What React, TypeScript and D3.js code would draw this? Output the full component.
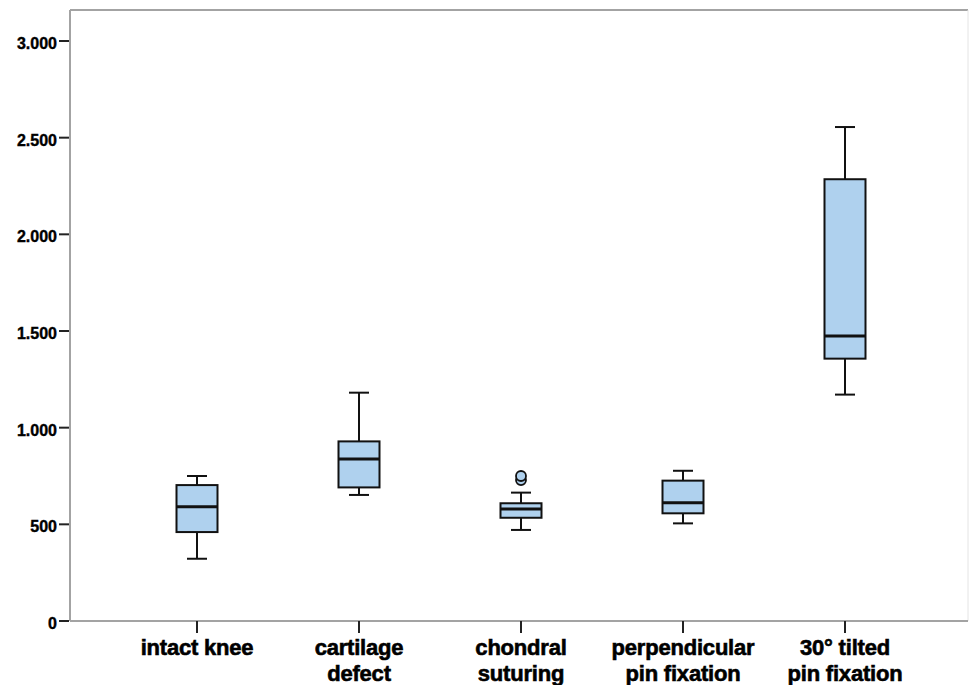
import React, { useEffect, useRef } from "react";
import * as d3 from "d3";

const categories = ["intact knee", "cartilage defect", "chondral suturing", "perpendicular pin fixation", "30° tilted pin fixation"];
const labelLines = [["intact knee"], ["cartilage", "defect"], ["chondral", "suturing"], ["perpendicular", "pin fixation"], ["30° tilted", "pin fixation"]];
const whiskerLow = [322, 652, 471, 505, 1171];
const q1 = [460, 691, 534, 557, 1357];
const median = [591, 838, 579, 612, 1474];
const q3 = [703, 929, 609, 726, 2285];
const whiskerHigh = [750, 1181, 664, 777, 2555];
const outliers = [[], [], [729, 750], [], []];
const yTicks = [0, 500, 1000, 1500, 2000, 2500, 3000];

export default function App() {
  const ref = useRef<SVGSVGElement>(null);

  useEffect(() => {
    if (!ref.current) return;
    const svg = d3.select(ref.current);
    svg.selectAll("*").remove();

    const left = 70;
    const right = 968;
    const top = 10;
    const bottom = 621;

    const y = d3.scaleLinear().domain([0, 3000]).range([bottom, 41]);
    // category centres sit at fixed spacing inside the frame
    const x = d3.scalePoint<string>().domain(categories).range([197, 845]);

    const font = "'Liberation Sans', Arial, sans-serif";
    const frame = "#a3a3a3";

    // plot frame
    svg.append("line").attr("x1", left).attr("x2", right).attr("y1", top).attr("y2", top)
      .attr("stroke", frame).attr("stroke-width", 2);
    svg.append("line").attr("x1", right).attr("x2", right).attr("y1", top).attr("y2", bottom)
      .attr("stroke", "#e4e4e4").attr("stroke-width", 1);
    svg.append("line").attr("x1", left).attr("x2", left).attr("y1", top).attr("y2", bottom)
      .attr("stroke", frame).attr("stroke-width", 2);
    svg.append("line").attr("x1", left).attr("x2", right).attr("y1", bottom).attr("y2", bottom)
      .attr("stroke", frame).attr("stroke-width", 2);

    // y ticks
    const yt = svg.append("g");
    yTicks.forEach((t) => {
      yt.append("line").attr("x1", left - 11).attr("x2", left - 1).attr("y1", y(t)).attr("y2", y(t))
        .attr("stroke", "#222").attr("stroke-width", 2);
      yt.append("text").attr("x", left - 13).attr("y", y(t)).attr("dy", "0.5em")
        .attr("text-anchor", "end").style("font-family", font).style("font-weight", "bold")
        .style("font-size", "16px").attr("fill", "#000").attr("stroke", "#000").attr("stroke-width", 0.4)
        .text(d3.format(",")(t).replace(",", "."));
    });

    // x ticks and labels
    const xt = svg.append("g");
    categories.forEach((c, i) => {
      const cx = x(c) as number;
      xt.append("line").attr("x1", cx).attr("x2", cx).attr("y1", bottom).attr("y2", bottom + 12)
        .attr("stroke", "#222").attr("stroke-width", 2);
      const txt = xt.append("text").attr("text-anchor", "middle").style("font-family", font)
        .style("font-weight", "bold").style("font-size", "22px").style("letter-spacing", "-0.2px")
        .attr("fill", "#000").attr("stroke", "#000").attr("stroke-width", 0.6);
      labelLines[i].forEach((ln, j) => {
        txt.append("tspan").attr("x", cx).attr("y", 655 + j * 26).text(ln);
      });
    });

    // boxes
    const boxW = 41;
    const capW = 20;
    const fill = "#afd1ee";
    const g = svg.append("g");
    categories.forEach((c, i) => {
      const cx = x(c) as number;
      g.append("line").attr("x1", cx).attr("x2", cx).attr("y1", y(whiskerHigh[i])).attr("y2", y(q3[i]))
        .attr("stroke", "#111").attr("stroke-width", 2);
      g.append("line").attr("x1", cx).attr("x2", cx).attr("y1", y(q1[i])).attr("y2", y(whiskerLow[i]))
        .attr("stroke", "#111").attr("stroke-width", 2);
      g.append("line").attr("x1", cx - capW / 2).attr("x2", cx + capW / 2)
        .attr("y1", y(whiskerHigh[i])).attr("y2", y(whiskerHigh[i])).attr("stroke", "#111").attr("stroke-width", 2);
      g.append("line").attr("x1", cx - capW / 2).attr("x2", cx + capW / 2)
        .attr("y1", y(whiskerLow[i])).attr("y2", y(whiskerLow[i])).attr("stroke", "#111").attr("stroke-width", 2);
      g.append("rect").attr("x", cx - boxW / 2).attr("y", y(q3[i])).attr("width", boxW)
        .attr("height", y(q1[i]) - y(q3[i])).attr("fill", fill).attr("stroke", "#111").attr("stroke-width", 2);
      g.append("line").attr("x1", cx - boxW / 2).attr("x2", cx + boxW / 2)
        .attr("y1", y(median[i])).attr("y2", y(median[i])).attr("stroke", "#111").attr("stroke-width", 3);
      outliers[i].forEach((o) => {
        g.append("circle").attr("cx", cx).attr("cy", y(o)).attr("r", 5)
          .attr("fill", fill).attr("stroke", "#111").attr("stroke-width", 1.8);
      });
    });
  }, []);

  return (
    <svg ref={ref} width={969} height={685}
      style={{ position: "absolute", left: 0, top: 0, background: "#fff" }} />
  );
}
